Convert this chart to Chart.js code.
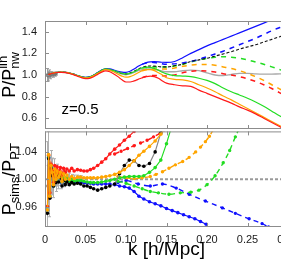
<!DOCTYPE html>
<html><head><meta charset="utf-8">
<script src="https://cdn.jsdelivr.net/npm/chart.js@4/dist/chart.umd.min.js"></script>
<style>
html,body{margin:0;padding:0;background:#fff;overflow:hidden;width:281px;height:264px;}
#wrap{position:relative;width:300px;height:264px;}
#c1{position:absolute;left:0;top:0;width:300px;height:134px;}
#c2{position:absolute;left:0;top:126px;width:300px;height:138px;}
</style></head><body>
<div id="wrap"><canvas id="c1" width="300" height="134"></canvas><canvas id="c2" width="300" height="138"></canvas></div>
<script>
// ---------- tick labels ----------
const xTicks = [0, 0.05, 0.10, 0.15, 0.20, 0.25, 0.30];
const xTickLabels = ['0', '0.05', '0.10', '0.15', '0.20', '0.25', '0.30'];
const yTopTicks = [0.6, 0.8, 1.0, 1.2, 1.4];
const yTopLabels = ['0.6', '0.8', '1.0', '1.2', '1.4'];
const yBotTicks = [0.96, 1.00, 1.04];
const yBotLabels = ['0.96', '1.00', '1.04'];

// ---------- top panel: P / P_nw^lin ----------
const kTop = [0.004,0.01,0.015,0.02,0.025,0.03,0.035,0.04,0.045,0.05,0.055,0.06,0.065,0.07,0.075,
  0.08,0.085,0.09,0.095,0.1,0.105,0.11,0.115,0.12,0.125,0.13,0.135,0.14,0.145,0.15,
  0.16,0.17,0.18,0.19,0.2,0.21,0.22,0.23,0.24,0.25,0.26,0.27,0.28,0.29,0.3];
const topBlue = [1.005,1.018,1.025,1.027,1.025,1.018,1.008,0.995,0.984,0.978,0.982,0.998,1.022,1.045,1.058,
  1.056,1.046,1.035,1.027,1.025,1.035,1.055,1.08,1.1,1.115,1.122,1.124,1.122,1.118,1.117,
  1.125,1.16,1.2,1.235,1.27,1.3,1.33,1.36,1.39,1.42,1.45,1.48,1.51,1.54,1.57];
const topGreen = [1.005,1.018,1.025,1.027,1.025,1.018,1.008,0.995,0.983,0.977,0.981,0.997,1.02,1.043,1.056,
  1.05,1.04,1.028,1.015,1.01,1.015,1.03,1.05,1.065,1.072,1.07,1.06,1.045,1.025,1.01,
  0.995,0.99,0.985,0.97,0.95,0.92,0.88,0.845,0.815,0.785,0.75,0.71,0.665,0.62,0.58];
const topGray = [1.005,1.018,1.025,1.027,1.025,1.018,1.008,0.995,0.983,0.977,0.98,0.996,1.019,1.042,1.054,
  1.048,1.035,1.02,1.008,1.003,1.01,1.025,1.04,1.05,1.055,1.055,1.05,1.045,1.035,1.03,
  1.03,1.04,1.045,1.04,1.02,1.0,0.995,1.005,1.015,1.015,1.01,1.008,1.008,1.01,1.01];
const topBlack = [1.005,1.018,1.025,1.027,1.025,1.018,1.008,0.995,0.983,0.977,0.981,0.997,1.02,1.043,1.055,
  1.05,1.04,1.028,1.015,1.01,1.02,1.035,1.055,1.07,1.08,1.083,1.082,1.078,1.075,1.075,
  1.085,1.1,1.125,1.14,1.155,1.175,1.195,1.215,1.24,1.26,1.28,1.305,1.33,1.355,1.38];
const topOrange = [1.005,1.018,1.025,1.027,1.024,1.017,1.006,0.993,0.98,0.973,0.976,0.992,1.015,1.037,1.05,
  1.043,1.028,1.008,0.99,0.98,0.985,1.0,1.02,1.04,1.05,1.05,1.04,1.02,1.0,0.975,
  0.96,0.955,0.94,0.91,0.88,0.845,0.805,0.77,0.73,0.69,0.65,0.61,0.57,0.53,0.49];
const topRed = [1.004,1.016,1.023,1.025,1.022,1.014,1.003,0.989,0.975,0.967,0.969,0.984,1.005,1.027,1.038,
  1.03,1.01,0.985,0.955,0.935,0.935,0.945,0.96,0.975,0.985,0.99,0.985,0.97,0.945,0.925,
  0.91,0.9,0.895,0.86,0.83,0.8,0.77,0.74,0.705,0.675,0.64,0.6,0.56,0.52,0.48];

const kTopDash = [0.12,0.13,0.14,0.15,0.16,0.17,0.18,0.19,0.2,0.21,0.22,0.23,0.24,0.25,0.26,0.27,0.28,0.29,0.3];
const topBlueDash = [1.1,1.118,1.11,1.1,1.103,1.112,1.125,1.145,1.17,1.195,1.22,1.25,1.28,1.31,1.34,1.375,1.41,1.44,1.47];
const topGreenDash = [1.065,1.075,1.075,1.075,1.085,1.1,1.12,1.14,1.155,1.165,1.17,1.165,1.155,1.14,1.12,1.1,1.075,1.05,1.02];
const topOrangeDash = [1.04,1.055,1.055,1.055,1.065,1.08,1.092,1.098,1.097,1.09,1.075,1.06,1.04,1.015,0.985,0.95,0.91,0.87,0.83];
const topRedDash = [0.975,0.995,0.995,0.99,1.0,1.02,1.033,1.04,1.037,1.027,1.012,1.0,0.985,0.965,0.94,0.91,0.875,0.835,0.795];

const kTopErr = [0.002,0.0035,0.005,0.0065,0.008,0.0095,0.011,0.0125,0.014];
const topErrVal = [1.0,0.99,1.012,0.995,1.006,1.0,1.01,1.005,1.012];
const topErrBar = [0.06,0.045,0.035,0.03,0.025,0.02,0.017,0.015,0.013];

// ---------- bottom panel: P_sims / P_PT ----------
const kSim = [0.003,0.0045,0.006,0.0075,0.009,0.0105,0.012,0.0135,0.015,0.017,0.019,0.021,0.023,0.025,0.027,0.03,0.033,0.036,0.04,0.044,
  0.048,0.052,0.056,0.06,0.065,0.07,0.075,0.08,0.086,0.092,0.098,0.104,0.11,0.116,0.122,0.129,0.136,0.143,0.15,0.157,0.164,0.171,0.178,0.185,0.192,0.199];
const botRed = [0.96,1.035,0.98,1.022,1.012,0.995,1.02,1.006,1.018,1.01,1.017,1.006,1.016,1.01,1.015,1.012,1.016,1.012,1.014,1.013,
  1.012,1.012,1.014,1.016,1.02,1.025,1.03,1.037,1.044,1.05,1.057,1.063,1.07,1.078,1.086,null,null,null,null,null,null,null,null,null,null,null];
const botBlack = [0.95,1.03,0.972,1.015,1.005,0.99,1.008,0.995,1.005,0.996,1.002,0.99,0.998,0.992,0.996,0.992,0.995,0.993,0.994,0.993,
  0.99,0.99,0.988,0.986,0.984,0.986,0.988,0.99,0.993,1.008,1.02,1.028,1.027,1.02,1.019,1.023,1.04,1.068,1.095,null,null,null,null,null,null,null];
const botOrange = [0.955,1.036,0.975,1.02,1.01,0.992,1.015,1.0,1.012,1.003,1.01,0.997,1.008,1.0,1.006,1.0,1.004,1.001,1.003,1.003,
  1.002,1.002,1.002,1.002,1.002,1.003,1.004,1.005,1.007,1.01,1.014,1.02,1.027,1.035,1.041,1.048,1.056,1.066,1.078,null,null,null,null,null,null,null];
const botGreen = [0.955,1.033,0.975,1.018,1.008,0.99,1.012,0.998,1.01,1.0,1.006,0.995,1.004,0.997,1.002,0.997,1.0,0.997,0.998,0.998,
  0.997,0.996,0.995,0.995,0.995,0.996,0.997,0.998,1.0,1.002,1.003,1.004,1.004,1.004,1.005,1.01,1.017,1.028,1.052,1.08,null,null,null,null,null,null];
const botBlue = [0.955,1.032,0.974,1.017,1.007,0.99,1.011,0.997,1.008,0.999,1.004,0.994,1.002,0.996,1.0,0.996,0.998,0.995,0.996,0.995,
  0.995,0.994,0.994,0.993,0.993,0.993,0.993,0.993,0.992,0.99,0.989,0.987,0.982,0.975,0.971,0.967,0.964,0.961,0.957,0.954,0.951,0.948,0.945,0.942,0.938,0.934];

const kRedDash = [0.086,0.094,0.102,0.11,0.118,0.126,0.134,0.142,0.15];
const botRedDash = [1.037,1.041,1.045,1.049,1.053,1.057,1.062,1.067,1.073];
const kOrangeDash = [0.09,0.1,0.11,0.12,0.13,0.137,0.145,0.153,0.161,0.17,0.178,0.186,0.192,0.198,0.203,0.208];
const botOrangeDash = [1.004,1.002,1.001,1.002,1.004,1.007,1.011,1.016,1.021,1.026,1.032,1.04,1.047,1.055,1.063,1.073];
const kGreenDash = [0.09,0.1,0.11,0.12,0.13,0.14,0.153,0.167,0.18,0.19,0.2,0.21,0.22,0.228,0.235,0.24];
const botGreenDash = [0.997,0.994,0.99,0.986,0.982,0.98,0.978,0.98,0.981,0.984,0.992,1.005,1.024,1.042,1.062,1.075];
const kBlueDash = [0.09,0.1,0.115,0.13,0.145,0.162,0.178,0.198,0.219,0.235,0.252,0.268,0.276];
const botBlueDash = [0.995,0.998,0.993,0.99,0.993,0.987,0.978,0.968,0.958,0.95,0.942,0.935,0.93];

const kRef = [0, 0.3];
const botRef = [1.0, 1.0];

const kBotErr = [0.0025,0.004,0.0055,0.007,0.0085,0.01,0.0115,0.013,0.0145,0.016,0.018,0.02,0.022,0.024,0.026,0.028,0.03,0.033,0.036,0.039,0.042,0.045];
const botErrVal = [0.99,1.02,0.985,1.01,1.004,0.996,1.01,1.0,1.006,1.0,1.004,0.998,1.003,0.999,1.002,0.999,1.001,1.0,1.0,1.0,1.0,1.0];
const botErrBar = [0.065,0.05,0.04,0.032,0.027,0.023,0.02,0.018,0.016,0.014,0.013,0.012,0.011,0.01,0.009,0.008,0.008,0.007,0.006,0.006,0.005,0.005];

// ---------- styling ----------
const FONT = '"Liberation Sans", Arial, Helvetica, sans-serif';
const C = { blue:'#1010ff', green:'#22dd22', orange:'#ffa500', red:'#ff1a1a', gray:'#a8a8a8', black:'#111111' };
const pts = (ks, vs) => ks.map((k, i) => ({ x: k, y: vs[i] }));

function solid(ks, vs, color, extra) {
  return Object.assign({ data: pts(ks, vs), borderColor: color, backgroundColor: color, borderWidth: 1.2,
    pointRadius: 0, cubicInterpolationMode: 'monotone', spanGaps: false }, extra || {});
}

const errPlugin = {
  id: 'errbars',
  beforeDatasetsDraw(chart) {
    const { ctx, chartArea: a } = chart; const ys = chart.scales.y;
    ctx.save(); ctx.beginPath(); ctx.rect(a.left, a.top, a.right - a.left, a.bottom - a.top); ctx.clip();
    chart.data.datasets.forEach((ds, i) => {
      if (!ds.errors) return;
      const meta = chart.getDatasetMeta(i);
      ctx.beginPath(); ctx.strokeStyle = ds.errColor; ctx.lineWidth = 1;
      meta.data.forEach((p, j) => {
        const v = ds.data[j].y, e = ds.errors[j];
        const y1 = ys.getPixelForValue(v - e), y2 = ys.getPixelForValue(v + e);
        const x = Math.round(p.x) + 0.5;
        ctx.moveTo(x, y1); ctx.lineTo(x, y2);
        ctx.moveTo(x - 1.5, y1); ctx.lineTo(x + 1.5, y1);
        ctx.moveTo(x - 1.5, y2); ctx.lineTo(x + 1.5, y2);
      });
      ctx.stroke();
    });
    ctx.restore();
  }
};

const framePlugin = {
  id: 'frame',
  afterDatasetsDraw(chart, args, opts) {
    const { ctx, chartArea: a, scales } = chart;
    ctx.save();
    ctx.strokeStyle = '#8c8c8c'; ctx.lineWidth = 1;
    ctx.strokeRect(a.left + 0.5, a.top + 0.5, a.right - a.left - 1, a.bottom - a.top - 1);
    ctx.beginPath();
    const L = 4;
    xTicks.forEach(v => {
      const x = Math.round(scales.x.getPixelForValue(v)) + 0.5;
      ctx.moveTo(x, a.top); ctx.lineTo(x, a.top + L);
      ctx.moveTo(x, a.bottom); ctx.lineTo(x, a.bottom - L);
    });
    (opts.yTicks || []).forEach(v => {
      const y = Math.round(scales.y.getPixelForValue(v)) + 0.5;
      ctx.moveTo(a.left, y); ctx.lineTo(a.left + L, y);
      ctx.moveTo(a.right, y); ctx.lineTo(a.right - L, y);
    });
    ctx.stroke(); ctx.restore();
  }
};

function drawRich(ctx, segs, x, y, rotate) {
  ctx.save(); ctx.translate(x, y); if (rotate) ctx.rotate(-Math.PI / 2);
  ctx.textBaseline = 'alphabetic'; ctx.textAlign = 'left'; ctx.fillStyle = '#000';
  const widths = [], starts = []; let pos = 0;
  segs.forEach((s, i) => {
    ctx.font = s.size + 'px ' + FONT;
    const w = ctx.measureText(s.t).width; widths.push(w);
    const st = s.stack ? starts[i - 1] : pos; starts.push(st);
    pos = Math.max(pos, st + w);
  });
  const x0 = -pos / 2;
  segs.forEach((s, i) => { ctx.font = s.size + 'px ' + FONT; ctx.fillText(s.t, x0 + starts[i], s.dy || 0); });
  ctx.restore();
}

const titlePlugin = {
  id: 'titles',
  afterDraw(chart, args, opts) {
    const { ctx, chartArea: a } = chart;
    (opts.items || []).forEach(it => {
      const cx = it.x === 'center' ? (a.left + a.right) / 2 : it.x;
      const cy = it.y === 'center' ? (a.top + a.bottom) / 2 : it.y;
      drawRich(ctx, it.segs, cx, cy, it.rotate);
    });
  }
};

function yScale(min, max, ticks, labels) {
  return {
    min, max,
    afterBuildTicks: s => { s.ticks = ticks.map(v => ({ value: v })); },
    afterFit: s => { s.width = 45; s.paddingTop = 0; s.paddingBottom = 0; },
    grid: { display: false, drawTicks: false }, border: { display: false },
    ticks: { padding: 8, font: { family: FONT, size: 11 }, color: '#1a1a1a', callback: (v, i) => labels[i] }
  };
}

// ---------- top chart ----------
new Chart(document.getElementById('c1'), {
  type: 'line',
  data: { datasets: [
    solid(kTop, topRed, C.red),
    solid(kTop, topOrange, C.orange),
    solid(kTop, topGreen, C.green),
    solid(kTop, topBlue, C.blue),
    solid(kTop, topBlack, C.black, { borderDash: [3, 2], borderWidth: 1.1 }),
    solid(kTopDash, topBlueDash, C.blue, { borderDash: [5, 5], borderWidth: 1.5 }),
    solid(kTopDash, topGreenDash, C.green, { borderDash: [5, 5], borderWidth: 1.5 }),
    solid(kTopDash, topOrangeDash, C.orange, { borderDash: [5, 5], borderWidth: 1.5 }),
    solid(kTopDash, topRedDash, C.red, { borderDash: [5, 5], borderWidth: 1.5 }),
    solid(kTop, topGray, C.gray, { borderWidth: 1.4 }),
    { data: pts(kTopErr, topErrVal), errors: topErrBar, errColor: '#9a9a9a', showLine: false,
      pointRadius: 1, backgroundColor: '#777', borderColor: '#777' }
  ] },
  options: {
    responsive: false, animation: false, events: [],
    layout: { padding: { left: 0, right: 12, top: 21, bottom: 3 } },
    plugins: {
      legend: { display: false }, tooltip: { enabled: false },
      frame: { yTicks: yTopTicks },
      titles: { items: [
        { x: 15, y: 'center', rotate: true, segs: [ { t: 'P/P', size: 18 }, { t: 'nw', size: 13, dy: 4 }, { t: 'lin', size: 13, dy: -8, stack: true } ] },
        { x: 80, y: 114, rotate: false, segs: [ { t: 'z=0.5', size: 15 } ] }
      ] }
    },
    scales: {
      x: { type: 'linear', min: 0, max: 0.3, display: false },
      y: yScale(0.5, 1.5, yTopTicks, yTopLabels)
    }
  },
  plugins: [errPlugin, framePlugin, titlePlugin]
});

// ---------- bottom chart ----------
const mk = (color) => ({ tension: 0, cubicInterpolationMode: 'default', pointRadius: 1.8, pointBackgroundColor: color, pointBorderWidth: 0 });
new Chart(document.getElementById('c2'), {
  type: 'line',
  data: { datasets: [
    solid(kSim, botOrange, C.orange, mk(C.orange)),
    solid(kSim, botRed, C.red, mk(C.red)),
    solid(kSim, botBlack, '#888888', mk('#000')),
    solid(kSim, botGreen, C.green, mk(C.green)),
    solid(kSim, botBlue, C.blue, mk(C.blue)),
    solid(kRedDash, botRedDash, C.red, { borderDash: [5, 4], borderWidth: 1.4, pointRadius: 1 }),
    solid(kOrangeDash, botOrangeDash, C.orange, { borderDash: [5, 4], borderWidth: 1.4, pointRadius: 1 }),
    solid(kGreenDash, botGreenDash, C.green, { borderDash: [5, 4], borderWidth: 1.4, pointRadius: 1 }),
    solid(kBlueDash, botBlueDash, C.blue, { borderDash: [5, 4], borderWidth: 1.4, pointRadius: 1 }),
    solid(kRef, botRef, '#9a9a9a', { borderDash: [3, 2], borderWidth: 2, tension: 0 }),
    { data: pts(kBotErr, botErrVal), errors: botErrBar, errColor: '#b0b0b0', showLine: false,
      pointRadius: 1, backgroundColor: '#999', borderColor: '#999' }
  ] },
  options: {
    responsive: false, animation: false, events: [],
    layout: { padding: { left: 0, right: 12, top: 4, bottom: 0 } },
    plugins: {
      legend: { display: false }, tooltip: { enabled: false },
      frame: { yTicks: yBotTicks },
      titles: { items: [
        { x: 15, y: 'center', rotate: true, segs: [ { t: 'P', size: 18 }, { t: 'sims', size: 13, dy: 4 }, { t: '/P', size: 18 }, { t: 'PT', size: 13, dy: 4 } ] },
        { x: 'center', y: 129, rotate: false, segs: [ { t: 'k [h/Mpc]', size: 19 } ] }
      ] }
    },
    scales: {
      x: { type: 'linear', min: 0, max: 0.3,
        afterBuildTicks: s => { s.ticks = xTicks.map(v => ({ value: v })); },
        afterFit: s => { s.height = 37; s.paddingLeft = 0; s.paddingRight = 0; },
        grid: { display: false, drawTicks: false }, border: { display: false },
        ticks: { padding: 6, maxRotation: 0, autoSkip: false, font: { family: FONT, size: 11 }, color: '#1a1a1a', callback: (v, i) => xTickLabels[i] } },
      y: yScale(0.93, 1.07, yBotTicks, yBotLabels)
    }
  },
  plugins: [errPlugin, framePlugin, titlePlugin]
});
</script></body></html>
